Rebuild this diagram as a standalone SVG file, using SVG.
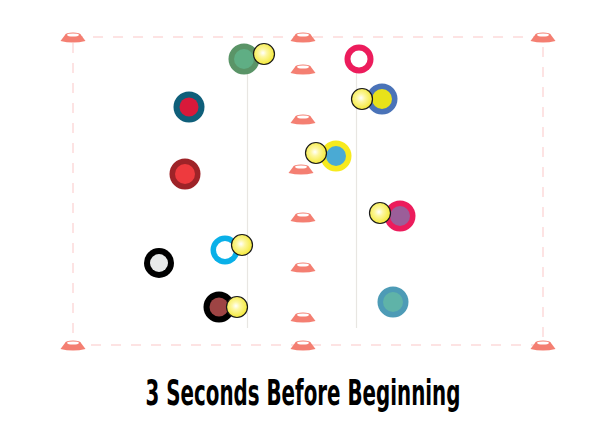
<svg xmlns="http://www.w3.org/2000/svg" width="612" height="425" viewBox="0 0 612 425">
<defs>
<radialGradient id="ballg" cx="0.45" cy="0.45" r="0.55">
<stop offset="0" stop-color="#ffffff"/>
<stop offset="0.35" stop-color="#fdf7a0"/>
<stop offset="1" stop-color="#f4e938"/>
</radialGradient>
<g id="cone">
<path d="M-12.5,3 L-8,-3 L8,-3 L12.5,3 Q0,6 -12.5,3 Z" fill="#f47f72"/>
<ellipse cx="0" cy="-3" rx="8" ry="2.6" fill="#f47f72"/>
<ellipse cx="0" cy="-3" rx="6" ry="1.6" fill="#ffffff"/>
</g>
<circle id="ball" r="10.5" fill="url(#ballg)" stroke="#1a1a1a" stroke-width="1.2"/>
</defs>
<style>
.bound{fill:none;stroke:#fde3e3;stroke-width:2;stroke-dasharray:10 10}
.vline{stroke:#e8e6e2;stroke-width:1.2}
.title{font-family:"DejaVu Sans Condensed","DejaVu Sans",sans-serif;font-weight:bold;font-size:35px;fill:#000}
</style>
<rect id="pitch" class="bound" x="73" y="37" width="470" height="308"/>
<g id="connectors">
<line class="vline" x1="247.5" y1="62" x2="247.5" y2="328"/>
<line class="vline" x1="356.5" y1="62" x2="356.5" y2="328"/>
</g>
<g id="cones">
<use href="#cone" x="73" y="38"/>
<use href="#cone" x="303" y="38"/>
<use href="#cone" x="543" y="38"/>
<use href="#cone" x="73" y="346"/>
<use href="#cone" x="303" y="346"/>
<use href="#cone" x="543" y="346"/>
<use href="#cone" x="303" y="70"/>
<use href="#cone" x="303" y="120"/>
<use href="#cone" x="301" y="170"/>
<use href="#cone" x="303" y="218"/>
<use href="#cone" x="303" y="268"/>
<use href="#cone" x="303" y="318"/>
</g>
<g id="p1"><circle cx="244" cy="59" r="15.5" fill="#5a9467"/><circle cx="244" cy="59" r="10" fill="#5fae84"/><use href="#ball" x="264" y="54"/></g>
<g id="p2"><circle cx="359" cy="59" r="14.5" fill="#ec1c5c"/><circle cx="359" cy="59" r="8.5" fill="#ffffff"/></g>
<g id="p3"><circle cx="382" cy="99" r="15.5" fill="#4a73b8"/><circle cx="382" cy="99" r="10" fill="#e8e21a"/><use href="#ball" x="362" y="99"/></g>
<g id="p4"><circle cx="189" cy="107" r="15.5" fill="#0f5f7a"/><circle cx="189" cy="107" r="9.5" fill="#d9193a"/></g>
<g id="p5"><circle cx="336" cy="156" r="15.5" fill="#f7ea1e"/><circle cx="336" cy="156" r="10" fill="#4aaad4"/><use href="#ball" x="316" y="153"/></g>
<g id="p6"><circle cx="185" cy="174" r="15.5" fill="#9e2328"/><circle cx="185" cy="174" r="10" fill="#ee3a3e"/></g>
<g id="p7"><circle cx="400" cy="216" r="15.5" fill="#ec1c5c"/><circle cx="400" cy="216" r="10" fill="#9b5e99"/><use href="#ball" x="380" y="213"/></g>
<g id="p8"><circle cx="225" cy="250" r="14.5" fill="#0ab0e8"/><circle cx="225" cy="250" r="9" fill="#ffffff"/><use href="#ball" x="242" y="245"/></g>
<g id="p9"><circle cx="159" cy="263" r="15" fill="#000000"/><circle cx="159" cy="263" r="9" fill="#e8eaea"/></g>
<g id="p10"><circle cx="219" cy="307" r="15.5" fill="#000000"/><circle cx="219" cy="307" r="9.5" fill="#9e4444"/><use href="#ball" x="237" y="307"/></g>
<g id="p11"><circle cx="393" cy="302" r="15.5" fill="#4d9bb6"/><circle cx="393" cy="302" r="10" fill="#5fb3a8"/></g>
<text class="title" transform="translate(303,405) scale(0.63,1)" x="0" y="0" text-anchor="middle">3 Seconds Before Beginning</text>
</svg>
